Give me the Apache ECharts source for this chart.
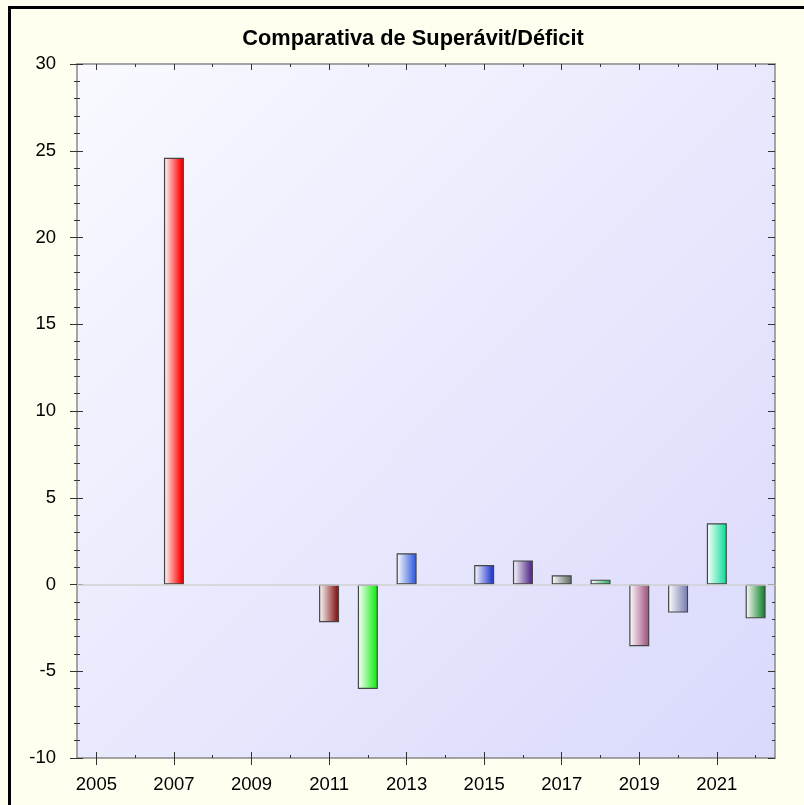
<!DOCTYPE html>
<html>
<head>
<meta charset="utf-8">
<script src="https://cdn.jsdelivr.net/npm/echarts@6/dist/echarts.min.js"></script>
<style>
html,body{margin:0;padding:0;background:#fffff0;}
#chart{width:804px;height:805px;}
</style>
</head>
<body>
<div id="chart"></div>
<script>
const titleText = 'Comparativa de Superávit/Déficit';
const years = ['2005','2006','2007','2008','2009','2010','2011','2012','2013','2014','2015','2016','2017','2018','2019','2020','2021','2022'];
const values = [null, null, 24.6, null, null, null, -2.18, -6.02, 1.8, null, 1.12, 1.39, 0.53, 0.28, -3.56, -1.62, 3.53, -1.95];
const barColors = ['#ff0000','#ff0000','#ff0000','#ff0000','#ff0000','#ff0000','#8b2020','#22ee22','#3f66e0','#3f66e0','#2a40d0','#5a3390','#6f7870','#3cb371','#a85e8a','#8488b8','#1fe0a0','#218a38'];
const yTicks = {min: -10, max: 30, interval: 5};

const chart = echarts.init(document.getElementById('chart'));
const font = 'Liberation Sans, Arial, sans-serif';

const barData = values.map((v, i) => v === null ? '-' : {
  value: v,
  itemStyle: {
    color: new echarts.graphic.LinearGradient(0, 0, 1, 0, [
      {offset: 0, color: '#ffffff'},
      {offset: 0.88, color: barColors[i]},
      {offset: 1, color: barColors[i]}
    ])
  }
});

function xAx(pos, interval, inside, len, showLabel, showLine) {
  return {
    type: 'category', data: years, position: pos, gridIndex: 0,
    boundaryGap: true,
    axisLine: {show: showLine, onZero: false, lineStyle: {color: '#888888', width: 1.5}},
    axisTick: {show: true, alignWithLabel: true, interval: interval, inside: inside, length: len, lineStyle: {color: '#333333', width: 1}},
    axisLabel: {show: showLabel, interval: 1, fontSize: 18.5, color: '#000', fontFamily: font, margin: 17},
    splitLine: {show: false}
  };
}
function yAx(pos, inside, len, minorLen, showLabel, showLine) {
  return {
    type: 'value', position: pos, min: yTicks.min, max: yTicks.max, interval: yTicks.interval,
    axisLine: {show: showLine, lineStyle: {color: '#888888', width: 1.5}},
    axisTick: {show: true, inside: inside, length: len, lineStyle: {color: '#333333', width: 1}},
    minorTick: {show: true, splitNumber: 5, length: minorLen, lineStyle: {color: '#333333', width: 1}},
    axisLabel: {show: showLabel, fontSize: 18.5, color: '#000', fontFamily: font, margin: 21},
    splitLine: {show: false}, minorSplitLine: {show: false}
  };
}

chart.setOption({
  backgroundColor: '#fffff0',
  animation: false,
  title: {
    text: titleText, left: 408, top: 23, textAlign: 'center',
    textStyle: {fontSize: 21.8, fontWeight: 'bold', color: '#000', fontFamily: font}
  },
  grid: {
    left: 77, right: 29, top: 64, bottom: 47, show: true, borderWidth: 0,
    backgroundColor: new echarts.graphic.LinearGradient(0, 0, 1, 1, [
      {offset: 0, color: '#f9f9ff'},
      {offset: 1, color: '#d9d9fc'}
    ])
  },
  xAxis: [
    xAx('bottom', 1, false, 7, true, true),
    xAx('bottom', 0, true, 3, false, false),
    xAx('bottom', 1, true, 6, false, false),
    xAx('top', 1, true, 6, false, true),
    xAx('top', 0, true, 3, false, false)
  ],
  yAxis: [
    yAx('left', false, 7, 3, true, true),
    yAx('left', true, 6, 3, false, false),
    yAx('right', true, 7, 3, false, true)
  ],
  series: [{
    type: 'bar', xAxisIndex: 0, yAxisIndex: 0,
    data: barData, barWidth: 20,
    itemStyle: {borderColor: '#454545', borderWidth: 1.2},
    markLine: {
      silent: true, symbol: 'none', label: {show: false},
      lineStyle: {color: '#d0d0d0', width: 1.5, type: 'solid'},
      data: [{yAxis: 0}]
    }
  }],
  graphic: [
    {type: 'rect', shape: {x: 8, y: 6, width: 800, height: 3}, style: {fill: '#000'}},
    {type: 'rect', shape: {x: 8, y: 6, width: 3, height: 800}, style: {fill: '#000'}}
  ]
});
</script>
</body>
</html>
